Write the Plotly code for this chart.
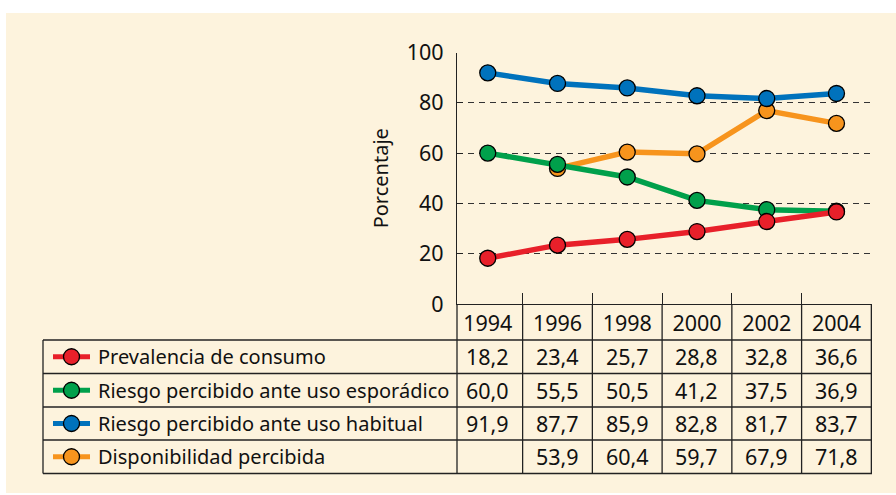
import plotly.graph_objects as go

# datos
years = ['1994', '1996', '1998', '2000', '2002', '2004']
series_names = ['Prevalencia de consumo',
                'Riesgo percibido ante uso esporádico',
                'Riesgo percibido ante uso habitual',
                'Disponibilidad percibida']
prevalencia = [18.2, 23.4, 25.7, 28.8, 32.8, 36.6]
riesgo_esporadico = [60.0, 55.5, 50.5, 41.2, 37.5, 36.9]
riesgo_habitual = [91.9, 87.7, 85.9, 82.8, 81.7, 83.7]
# el punto de 2002 aparece en el grafico a ~77, la tabla dice 67,9
disponibilidad = [None, 53.9, 60.4, 59.7, 76.9, 71.8]
disponibilidad_tabla = [None, 53.9, 60.4, 59.7, 67.9, 71.8]
colors = ['#E8202A', '#00A04B', '#0072BC', '#F7941D']

W, H = 896, 495
X_L, X_R = 457, 872
Y_TOP, Y_0 = 52.5, 304
ROWS = [340, 373.5, 407, 440, 473.5]
T_LEFT = 43
FONT = 'Noto Sans'
FS = 20      # texto
FS_NUM = 21.5  # cifras


def px(x):
    return x / W


def py(y):
    return 1 - y / H


plotted = [prevalencia, riesgo_esporadico, riesgo_habitual, disponibilidad]
table = [prevalencia, riesgo_esporadico, riesgo_habitual, disponibilidad_tabla]

fig = go.Figure()
# draw order: orange below, red on top
for i in [3, 2, 1, 0]:
    fig.add_trace(go.Scatter(
        x=years, y=plotted[i], name=series_names[i], mode='lines+markers',
        line=dict(color=colors[i], width=5.5),
        marker=dict(size=16, color=colors[i], line=dict(color='black', width=1.3)),
        connectgaps=False, showlegend=False, cliponaxis=False))

shapes = []
shapes.append(dict(type='rect', xref='paper', yref='paper', x0=px(6), x1=px(W),
                   y0=py(493), y1=py(13), fillcolor='#FDF3DD', line=dict(width=0),
                   layer='below'))
line_k = dict(color='#222', width=1.3)
# y axis continues through the table
shapes.append(dict(type='line', xref='paper', yref='paper', x0=px(X_L), x1=px(X_L),
                   y0=py(Y_0), y1=py(ROWS[-1]), line=line_k))
# column lines
for j in range(len(years)):
    shapes.append(dict(type='line', xref='x', yref='paper', x0=j + 0.5, x1=j + 0.5,
                       y0=py(Y_0), y1=py(ROWS[-1]), line=line_k))
# header bottom + row lines
for k, yy in enumerate(ROWS):
    shapes.append(dict(type='line', xref='paper', yref='paper', x0=px(T_LEFT), x1=px(X_R),
                       y0=py(yy), y1=py(yy), line=line_k))
shapes.append(dict(type='line', xref='paper', yref='paper', x0=px(T_LEFT), x1=px(T_LEFT),
                   y0=py(ROWS[0]), y1=py(ROWS[-1]), line=line_k))

annotations = []
for i in range(4):
    yc = (ROWS[i] + ROWS[i + 1]) / 2
    shapes.append(dict(type='line', xref='paper', yref='paper', x0=px(53), x1=px(90),
                       y0=py(yc), y1=py(yc), line=dict(color=colors[i], width=5)))
    shapes.append(dict(type='circle', xref='paper', yref='paper', x0=px(63.5), x1=px(79.5),
                       y0=py(yc + 8), y1=py(yc - 8), fillcolor=colors[i],
                       line=dict(color='black', width=1.3)))
    annotations.append(dict(xref='paper', yref='paper', x=px(96), y=py(yc), text=series_names[i],
                            showarrow=False, xanchor='left', yanchor='middle',
                            font=dict(family=FONT, size=FS, color='#111')))
    for j, v in enumerate(table[i]):
        if v is None:
            continue
        annotations.append(dict(xref='x', yref='paper', x=j, y=py(yc),
                                text=('%.1f' % v).replace('.', ','), showarrow=False,
                                xanchor='center', yanchor='middle',
                                font=dict(family=FONT, size=FS_NUM, color='#111')))

fig.update_layout(
    width=W, height=H, autosize=False,
    margin=dict(l=0, r=0, t=0, b=0, pad=0, autoexpand=False),
    paper_bgcolor='white', plot_bgcolor='rgba(0,0,0,0)',
    font=dict(family=FONT, size=FS, color='#111'),
    shapes=shapes, annotations=annotations,
    xaxis=dict(domain=[px(X_L), px(X_R)], type='category', tickson='boundaries',
               ticks='inside', ticklen=11, tickcolor='#222', tickwidth=1.3,
               showline=True, linecolor='#222', linewidth=1.3, showgrid=False,
               automargin=False,
               tickfont=dict(family=FONT, size=FS_NUM, color='#111'), ticklabelstandoff=0),
    yaxis=dict(domain=[py(Y_0), py(Y_TOP)], range=[0, 100], dtick=20,
               ticks='inside', ticklen=6, tickcolor='#222', tickwidth=1.3,
               showline=True, linecolor='#222', linewidth=1.3,
               showgrid=True, gridcolor='#333', griddash='6px,5px', gridwidth=1.2,
               zeroline=False, ticklabelstandoff=8, automargin=False,
               title=dict(text='Porcentaje', standoff=12,
                          font=dict(family=FONT, size=FS, color='#111')),
               tickfont=dict(family=FONT, size=FS_NUM, color='#111')),
)

fig.write_html('out.html', config={'displayModeBar': False},
               post_script="document.body.style.margin='0';"
                           "document.body.style.overflow='hidden';")
